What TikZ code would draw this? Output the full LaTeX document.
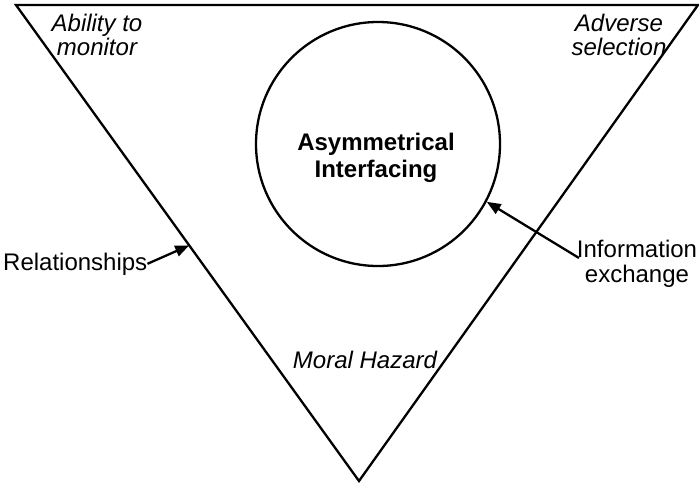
\documentclass[tikz,border=0pt]{standalone}
\usepackage{fontspec}
\setmainfont{Liberation Sans}
\usetikzlibrary{arrows.meta,calc}

\tikzset{
  edge/.style={line width=2.3pt, line join=miter},
  label/.style={inner sep=0pt, align=center, font=\fontsize{24}{25}\selectfont},
  corner/.style={label, font=\fontsize{24}{23.5}\selectfont\itshape},
  pointer/.style={line width=2.3pt, -{Triangle[length=14pt,width=11pt]}},
}

\begin{document}
\begin{tikzpicture}[x=1pt,y=-1pt]
  \useasboundingbox (0,0) rectangle (699,483);

  % the inverted triangle
  \coordinate (tl) at (16,5);
  \coordinate (tr) at (698,5);
  \coordinate (bt) at (359,481);
  \draw[edge] (tl) -- (tr) -- (bt) -- cycle;

  % central circle and its title (multi-line nodes are anchored on the last baseline)
  \node[draw, circle, line width=2.3pt, minimum size=244pt, inner sep=0pt] (core) at (378,144) {};
  \node[label, anchor=base, font=\fontsize{24}{27}\selectfont\bfseries] (coretext) at (376,177)
    {Asymmetrical\\Interfacing};

  % corner labels
  \node[corner, anchor=base] (monitor) at (97,55) {Ability to\\monitor};
  \node[corner, anchor=base] (adverse) at (619,55) {Adverse\\selection};
  \node[corner, anchor=base] (moral) at (365,368) {Moral Hazard};

  % outside labels with pointers
  \node[label, anchor=base west] (rel) at (3,270) {Relationships};
  \coordinate (relTip) at ($(tl)!0.505!(bt)$);
  \draw[pointer] (rel.east) -- (relTip);

  \node[label, anchor=base] (info) at (637,282) {Information\\exchange};
  \coordinate (infoStart) at (579,258);
  \draw[pointer] (infoStart) -- (core.-28.5);
\end{tikzpicture}
\end{document}
